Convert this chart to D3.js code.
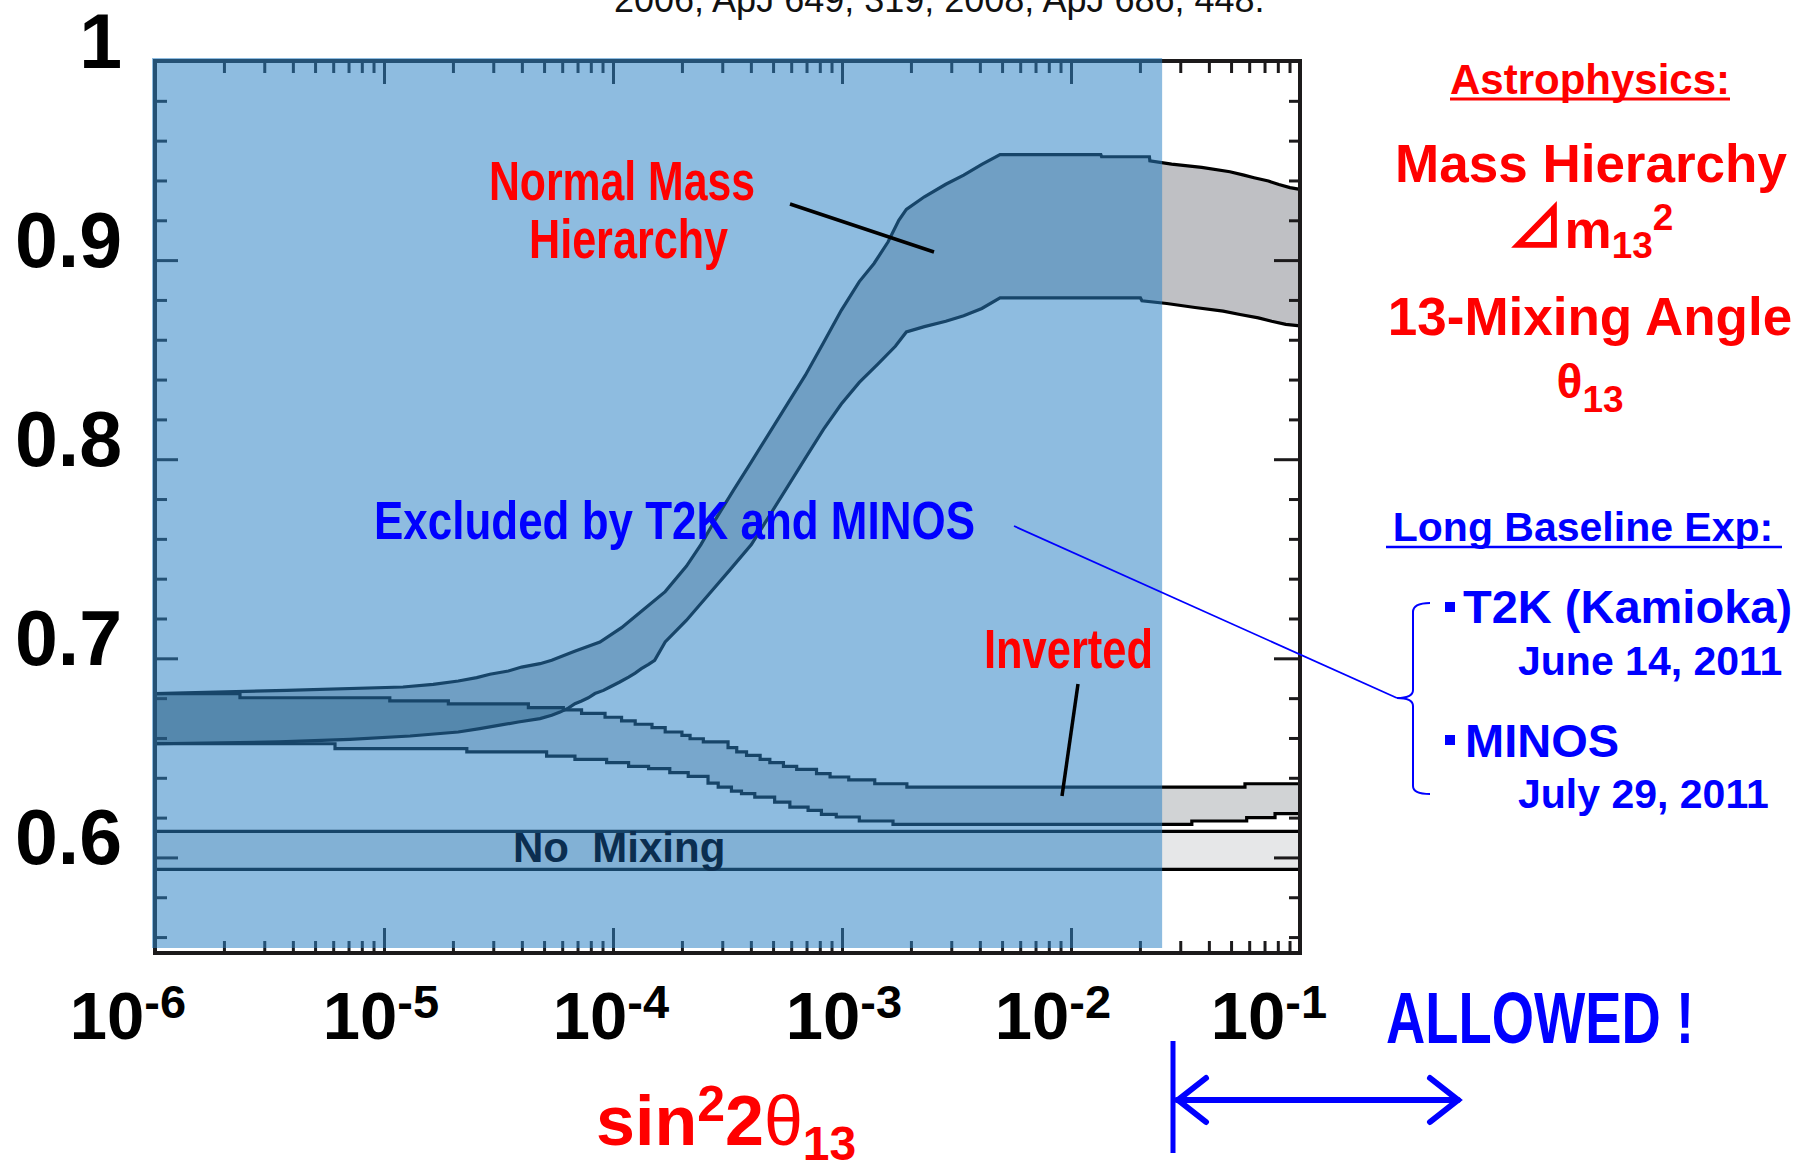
<!DOCTYPE html>
<html><head><meta charset="utf-8">
<script src="https://cdn.jsdelivr.net/npm/d3@7"></script>
<style>body{margin:0;background:#fff}svg{display:block}</style>
</head><body>
<svg id="chart" width="1803" height="1161"></svg>
<script>
// ---------------- data ----------------
const xTickValues = [1e-6, 1e-5, 1e-4, 1e-3, 1e-2, 1e-1];
const xTickExponents = ["-6", "-5", "-4", "-3", "-2", "-1"];
const yTickValues = [0.6, 0.7, 0.8, 0.9, 1.0];
const yTickLabels = ["0.6", "0.7", "0.8", "0.9", "1"];
const excludedLimit = 0.025;

const normalUpper = [
  [1e-6,0.6823],[3.76e-6,0.6839],[1.21e-5,0.6856],[1.64e-5,0.6869],[2.11e-5,0.6886],
  [2.54e-5,0.6903],[2.90e-5,0.6920],[3.49e-5,0.6936],[3.99e-5,0.6956],[4.80e-5,0.6973],
  [5.40e-5,0.6990],[6.8e-5,0.7035],[8.77e-5,0.7082],[1.09e-4,0.7154],[1.36e-4,0.7245],
  [1.69e-4,0.7335],[2.09e-4,0.7462],[2.42e-4,0.7571],[2.80e-4,0.7697],[3.35e-4,0.7842],
  [4.02e-4,0.7987],[4.82e-4,0.8132],[5.77e-4,0.8277],[6.92e-4,0.8422],[8.30e-4,0.8585],
  [9.93e-4,0.8748],[1.19e-3,0.8892],[1.38e-3,0.8983],[1.59e-3,0.9092],[1.77e-3,0.9200],
  [1.91e-3,0.9255],[2.29e-3,0.9318],[2.84e-3,0.9381],[3.40e-3,0.9427],[4.08e-3,0.9481],
  [4.90e-3,0.9530],[1.35e-2,0.9530],[1.36e-2,0.9519],[2.20e-2,0.9519],[2.21e-2,0.9499],
  [2.75e-2,0.9482],[3.72e-2,0.9466],[4.94e-2,0.9444],[5.69e-2,0.9427],[6.30e-2,0.9414],
  [7.28e-2,0.9397],[8.09e-2,0.9380],[9.04e-2,0.9364],[1e-1,0.9355]
];
const normalLower = [
  [1e-6,0.6571],[3.48e-6,0.6580],[7.10e-6,0.6593],[1.30e-5,0.6610],[2.11e-5,0.6630],
  [2.62e-5,0.6647],[3.16e-5,0.6663],[3.86e-5,0.6680],[4.80e-5,0.6697],[5.40e-5,0.6714],
  [5.87e-5,0.6730],[6.38e-5,0.6750],[6.82e-5,0.6772],[7.29e-5,0.6786],[7.80e-5,0.6802],
  [8.34e-5,0.6823],[9.08e-5,0.6839],[9.70e-5,0.6856],[1.07e-4,0.6881],[1.17e-4,0.6906],
  [1.25e-4,0.6926],[1.33e-4,0.6948],[1.43e-4,0.6970],[1.52e-4,0.6990],[1.69e-4,0.7082],
  [2.09e-4,0.7190],[2.60e-4,0.7317],[3.24e-4,0.7444],[4.02e-4,0.7571],[4.82e-4,0.7716],
  [5.77e-4,0.7860],[6.92e-4,0.8005],[8.30e-4,0.8150],[9.93e-4,0.8277],[1.19e-3,0.8386],
  [1.43e-3,0.8476],[1.71e-3,0.8567],[1.91e-3,0.8639],[2.29e-3,0.8666],[2.84e-3,0.8693],
  [3.40e-3,0.8721],[4.08e-3,0.8757],[4.90e-3,0.8810],[2.01e-2,0.8810],[2.04e-2,0.8796],
  [2.62e-2,0.8782],[3.48e-2,0.8762],[4.62e-2,0.8744],[5.47e-2,0.8727],[6.58e-2,0.8710],
  [7.52e-2,0.8693],[8.67e-2,0.8677],[1e-1,0.8670]
];
const invertedUpper = [
  [1e-6,0.6823],[2.35e-6,0.6802],[1.06e-5,0.6786],[1.91e-5,0.6771],[4.27e-5,0.6752],
  [6.07e-5,0.6741],[7.29e-5,0.6724],[9.23e-5,0.6704],[1.09e-4,0.6686],[1.25e-4,0.6669],
  [1.48e-4,0.6652],[1.69e-4,0.6630],[2.00e-4,0.6613],[2.17e-4,0.6596],[2.48e-4,0.6580],
  [3.18e-4,0.6551],[3.47e-4,0.6530],[3.83e-4,0.6513],[4.39e-4,0.6492],[4.84e-4,0.6476],
  [5.55e-4,0.6457],[6.34e-4,0.6442],[7.74e-4,0.6421],[8.87e-4,0.6404],[1.07e-3,0.6390],
  [1.39e-3,0.6370],[1.92e-3,0.6353],[5.75e-2,0.6370],[1e-1,0.6370]
];
const invertedLower = [
  [1e-6,0.6571],[6.11e-6,0.6546],[2.30e-5,0.6530],[5.13e-5,0.6509],[6.82e-5,0.6492],
  [9.38e-5,0.6476],[1.17e-4,0.6457],[1.43e-4,0.6446],[1.77e-4,0.6426],[2.13e-4,0.6407],
  [2.60e-4,0.6373],[2.88e-4,0.6353],[3.29e-4,0.6333],[3.64e-4,0.6320],[4.16e-4,0.6303],
  [5.08e-4,0.6278],[5.92e-4,0.6253],[7.11e-4,0.6236],[8.13e-4,0.6216],[9.44e-4,0.6203],
  [1.19e-3,0.6183],[1.67e-3,0.6166],[3.37e-2,0.6183],[5.85e-2,0.6200],[7.78e-2,0.6220],
  [1e-1,0.6220]
];
const noMixingUpper = [[1e-6,0.6131],[1e-1,0.6131]];
const noMixingLower = [[1e-6,0.5940],[1e-1,0.5940]];

// ---------------- layout ----------------
const svg = d3.select("#chart");
const L = 155, R = 1300, T = 61, B = 953;
const x = d3.scaleLog().domain([1e-6, 1e-1]).range([L, R]);
const y = d3.scaleLinear().domain([0.552, 1.0]).range([B, T]);
const INK = "#1c1a1b";
const RED = "#ff0000", BLUE = "#0000ff";
const FONT = "'Liberation Sans', Arial, sans-serif";
const NARROW = "'Liberation Sans Narrow', 'Liberation Sans', Arial, sans-serif";

const lineLin = d3.line().x(d => x(d[0])).y(d => y(d[1])).curve(d3.curveLinear);
const lineStepA = d3.line().x(d => x(d[0])).y(d => y(d[1])).curve(d3.curveStepAfter);
const lineStepB = d3.line().x(d => x(d[0])).y(d => y(d[1])).curve(d3.curveStepBefore);

function band(up, lo, gUp, gLo) {
  return gUp(up) + gLo(lo.slice().reverse()).replace(/^M/, "L") + "Z";
}
const normalPoly = band(normalUpper, normalLower, lineLin, lineLin);
const invertedPoly = band(invertedUpper, invertedLower, lineStepA, lineStepB);
const noMixPoly = band(noMixingUpper, noMixingLower, lineLin, lineLin);

const defs = svg.append("defs");
defs.append("clipPath").attr("id", "invClip").append("path").attr("d", invertedPoly);

const plot = svg.append("g");
plot.append("path").attr("d", noMixPoly).attr("fill", "#e6e7e8");
plot.append("path").attr("d", invertedPoly).attr("fill", "#d1d3d5");
plot.append("path").attr("d", normalPoly).attr("fill", "#bfc0c4");
plot.append("path").attr("d", normalPoly).attr("fill", "#859092").attr("clip-path", "url(#invClip)");

const strokeLine = (d, gen) => plot.append("path").attr("d", gen(d))
  .attr("fill", "none").attr("stroke", "#000").attr("stroke-width", 3.2);
strokeLine(noMixingUpper, lineLin); strokeLine(noMixingLower, lineLin);
strokeLine(invertedUpper, lineStepA); strokeLine(invertedLower, lineStepA);
strokeLine(normalUpper, lineLin); strokeLine(normalLower, lineLin);

// ---------------- axes (ticks inward on all four sides) ----------------
const xAll = x.ticks();
const isDecade = v => Math.abs(Math.log10(v) - Math.round(Math.log10(v))) < 1e-9;
const xMinor = xAll.filter(v => !isDecade(v));
const xMajor = xAll.filter(v => isDecade(v));
const yMinor = d3.range(0.56, 1.0001, 0.02).filter(v => Math.abs(v * 10 - Math.round(v * 10)) > 1e-6);
const yMajor = yTickValues.filter(v => v < 0.999);

function styleAxis(g) {
  g.select(".domain").remove();
  g.selectAll("line").attr("stroke", INK).attr("stroke-width", 3);
  g.selectAll("text").remove();
}
const axes = svg.append("g");
axes.append("g").attr("transform", `translate(0,${B})`).call(d3.axisBottom(x).tickValues(xMinor).tickSize(-12).tickFormat("")).call(styleAxis);
axes.append("g").attr("transform", `translate(0,${B})`).call(d3.axisBottom(x).tickValues(xMajor).tickSize(-25).tickFormat("")).call(styleAxis);
axes.append("g").attr("transform", `translate(0,${T})`).call(d3.axisTop(x).tickValues(xMinor).tickSize(-12).tickFormat("")).call(styleAxis);
axes.append("g").attr("transform", `translate(0,${T})`).call(d3.axisTop(x).tickValues(xMajor).tickSize(-23).tickFormat("")).call(styleAxis);
axes.append("g").attr("transform", `translate(${L},0)`).call(d3.axisLeft(y).tickValues(yMinor).tickSize(-12).tickFormat("")).call(styleAxis);
axes.append("g").attr("transform", `translate(${L},0)`).call(d3.axisLeft(y).tickValues(yMajor).tickSize(-23).tickFormat("")).call(styleAxis);
axes.append("g").attr("transform", `translate(${R},0)`).call(d3.axisRight(y).tickValues(yMinor).tickSize(-11).tickFormat("")).call(styleAxis);
axes.append("g").attr("transform", `translate(${R},0)`).call(d3.axisRight(y).tickValues(yMajor).tickSize(-26).tickFormat("")).call(styleAxis);
axes.append("rect").attr("x", L).attr("y", T).attr("width", R - L).attr("height", B - T)
  .attr("fill", "none").attr("stroke", INK).attr("stroke-width", 4);

// ---------------- excluded region overlay ----------------
svg.append("rect")
  .attr("x", x(1e-6) - 3).attr("y", T - 3)
  .attr("width", x(excludedLimit) - x(1e-6) + 3)
  .attr("height", (B - 5) - (T - 3))
  .attr("fill", "rgb(43,129,196)").attr("fill-opacity", 0.535);

// ---------------- tick labels ----------------
const xLabelNudge = [-27, -3, -2, 2, -18, -31];
const xl = svg.append("g").attr("font-family", FONT).attr("font-weight", "bold").attr("fill", "#000");
xTickValues.forEach((v, i) => {
  const t = xl.append("text").attr("x", x(v) + xLabelNudge[i]).attr("y", 1039)
    .attr("text-anchor", "middle");
  t.append("tspan").attr("font-size", 67).text("10");
  t.append("tspan").attr("font-size", 47).attr("dy", -21).text(xTickExponents[i]);
});
const yl = svg.append("g").attr("font-family", FONT).attr("font-weight", "bold").attr("fill", "#000");
yTickValues.forEach((v, i) => {
  yl.append("text").attr("x", 122).attr("y", y(v) + 7).attr("text-anchor", "end")
    .attr("font-size", 77).text(yTickLabels[i]);
});

// x-axis title
const xt = svg.append("text").attr("x", 596).attr("y", 1145).attr("fill", RED)
  .attr("font-family", FONT).attr("font-weight", "bold");
xt.append("tspan").attr("font-size", 70).text("sin");
xt.append("tspan").attr("font-size", 50).attr("dy", -24).text("2");
xt.append("tspan").attr("font-size", 70).attr("dy", 24).text("2");
xt.append("tspan").attr("font-size", 70).attr("font-weight", "normal").text("θ");
xt.append("tspan").attr("font-size", 48).attr("dy", 15).text("13");

// citation (cut at top, as in the source)
svg.append("text").attr("x", 614).attr("y", 12).attr("font-family", FONT).attr("font-size", 36)
  .attr("fill", "#111").text("2006, ApJ 649, 319; 2008, ApJ 686, 448.");

// ---------------- in-plot annotations ----------------
svg.append("text").attr("x", 513).attr("y", 862).attr("font-family", FONT).attr("font-weight", "bold")
  .attr("font-size", 42).attr("fill", "#0b2e50").style("white-space", "pre").text("No  Mixing");

const narrow = (txt, xx, yy, size, len, col) => svg.append("text").attr("x", xx).attr("y", yy)
  .attr("font-family", NARROW).attr("font-weight", "bold").attr("font-size", size).attr("fill", col)
  .attr("textLength", len).attr("lengthAdjust", "spacingAndGlyphs").text(txt);
narrow("Normal Mass", 489, 200, 55, 266, RED);
narrow("Hierarchy", 529, 258, 55, 199, RED);
narrow("Excluded by T2K and MINOS", 374, 539, 53, 601, BLUE);
narrow("Inverted", 984, 668, 55, 169, RED);
narrow("ALLOWED !", 1386, 1043, 72, 308, BLUE);

svg.append("line").attr("x1", 790).attr("y1", 204).attr("x2", 934).attr("y2", 252)
  .attr("stroke", "#000").attr("stroke-width", 3.5);
svg.append("line").attr("x1", 1078).attr("y1", 684).attr("x2", 1062).attr("y2", 796)
  .attr("stroke", "#000").attr("stroke-width", 3.5);

// leader and brace
svg.append("line").attr("x1", 1014).attr("y1", 526).attr("x2", 1397).attr("y2", 698)
  .attr("stroke", BLUE).attr("stroke-width", 1.8);
svg.append("path")
  .attr("d", "M1430,603 Q1413,603 1413,612 L1413,690 Q1413,698 1397,698 Q1413,698 1413,706 L1413,786 Q1413,794 1430,794")
  .attr("fill", "none").attr("stroke", BLUE).attr("stroke-width", 2);

// ALLOWED arrow
const ar = svg.append("g").attr("stroke", BLUE).attr("fill", "none").attr("stroke-linecap", "round");
ar.append("line").attr("x1", 1173).attr("y1", 1041).attr("x2", 1173).attr("y2", 1153).attr("stroke-width", 5).attr("stroke-linecap", "butt");
ar.append("line").attr("x1", 1177).attr("y1", 1100).attr("x2", 1458).attr("y2", 1100).attr("stroke-width", 6);
ar.append("path").attr("d", "M1206,1078 L1178,1100 L1206,1122").attr("stroke-width", 6);
ar.append("path").attr("d", "M1430,1078 L1458,1100 L1430,1122").attr("stroke-width", 6);

// ---------------- right-side texts ----------------
const rt = (txt, xx, yy, size, col, anchor) => svg.append("text").attr("x", xx).attr("y", yy)
  .attr("font-family", FONT).attr("font-weight", "bold").attr("font-size", size).attr("fill", col)
  .attr("text-anchor", anchor || "middle").text(txt);
rt("Astrophysics:", 1590, 94, 42, RED);
svg.append("line").attr("x1", 1450).attr("x2", 1730).attr("y1", 99).attr("y2", 99).attr("stroke", RED).attr("stroke-width", 3);
rt("Mass Hierarchy", 1591, 182, 53, RED);
const dm = svg.append("text").attr("x", 1590).attr("y", 248).attr("text-anchor", "middle")
  .attr("font-family", FONT).attr("font-weight", "bold").attr("fill", RED);
dm.append("tspan").attr("font-family", "'Noto Sans CJK JP'").attr("font-size", 58).text("⊿");
dm.append("tspan").attr("font-size", 53).text("m");
dm.append("tspan").attr("font-size", 37).attr("dy", 10).text("13");
dm.append("tspan").attr("font-size", 37).attr("dy", -28).text("2");
rt("13-Mixing Angle", 1590, 335, 53, RED);
const th = svg.append("text").attr("x", 1590).attr("y", 398).attr("text-anchor", "middle")
  .attr("font-family", FONT).attr("font-weight", "bold").attr("fill", RED);
th.append("tspan").attr("font-size", 48).text("θ");
th.append("tspan").attr("font-size", 37).attr("dy", 14).text("13");

rt("Long Baseline Exp:", 1583, 541, 41, BLUE);
svg.append("line").attr("x1", 1386).attr("x2", 1782).attr("y1", 547).attr("y2", 547).attr("stroke", BLUE).attr("stroke-width", 2.5);
svg.append("rect").attr("x", 1445).attr("y", 602).attr("width", 10).attr("height", 10).attr("fill", BLUE);
rt("T2K (Kamioka)", 1463, 623, 47, BLUE, "start");
rt("June 14, 2011", 1518, 675, 41, BLUE, "start");
svg.append("rect").attr("x", 1445).attr("y", 735).attr("width", 10).attr("height", 10).attr("fill", BLUE);
rt("MINOS", 1465, 757, 47, BLUE, "start");
rt("July 29, 2011", 1518, 808, 41, BLUE, "start");
</script>
</body></html>
